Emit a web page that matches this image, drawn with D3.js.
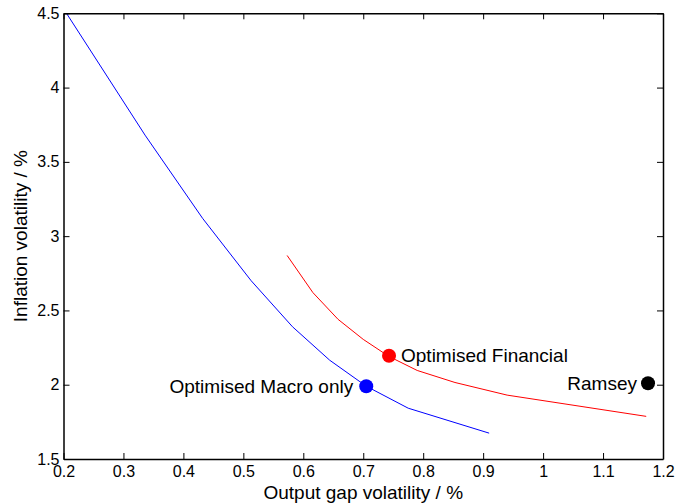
<!DOCTYPE html>
<html><head><meta charset="utf-8">
<script src="https://cdn.jsdelivr.net/npm/d3@7"></script>
<style>body{margin:0;background:#fff}svg text{font-family:"Liberation Sans",Arial,sans-serif;fill:#000}</style>
</head><body><svg id="c" width="677" height="504"></svg>
<script>
const xTicks = [0.2,0.3,0.4,0.5,0.6,0.7,0.8,0.9,1,1.1,1.2];
const yTicks = [1.5,2,2.5,3,3.5,4,4.5];
const macroX = [0.205,0.336,0.432,0.513,0.582,0.644,0.705,0.775,0.910];
const macroY = [4.50,3.68,3.12,2.70,2.39,2.165,1.99,1.842,1.674];
const finX = [0.573,0.616,0.658,0.700,0.743,0.790,0.853,0.940,1.172];
const finY = [2.87,2.62,2.44,2.305,2.19,2.096,2.015,1.93,1.787];
const pointNames = ["Optimised Macro only","Optimised Financial","Ramsey"];
const pointX = [0.705,0.743,1.175];
const pointY = [1.99,2.195,2.01];
const pointColors = ["#0000ff","#ff0000","#000000"];

const L=63.5,R=663,T=13.3,B=459;
const svg=d3.select("#c");
const x=d3.scaleLinear().domain([0.2,1.2]).range([L,R]);
const y=d3.scaleLinear().domain([1.5,4.5]).range([B,T]);

svg.append("clipPath").attr("id","clip").append("rect").attr("x",L).attr("y",T).attr("width",R-L).attr("height",B-T);

const line=d3.line().x(d=>x(d[0])).y(d=>y(d[1]));
const g=svg.append("g").attr("clip-path","url(#clip)");
g.append("path").datum(macroX.map((v,i)=>[v,macroY[i]])).attr("d",line).attr("fill","none").attr("stroke","#0000ff").attr("stroke-width",1);
g.append("path").datum(finX.map((v,i)=>[v,finY[i]])).attr("d",line).attr("fill","none").attr("stroke","#ff0000").attr("stroke-width",1);

const fmt=d=>d3.format("")(d);
const ax=svg.append("g").attr("transform",`translate(0,${B})`).call(d3.axisBottom(x).tickValues(xTicks).tickFormat(fmt).tickSizeInner(-6).tickSizeOuter(0).tickPadding(7));
const axT=svg.append("g").attr("transform",`translate(0,${T})`).call(d3.axisTop(x).tickValues(xTicks).tickFormat("").tickSizeInner(-6).tickSizeOuter(0));
const ay=svg.append("g").attr("transform",`translate(${L},0)`).call(d3.axisLeft(y).tickValues(yTicks).tickFormat(fmt).tickSizeInner(-6).tickSizeOuter(0).tickPadding(4));
const ayR=svg.append("g").attr("transform",`translate(${R},0)`).call(d3.axisRight(y).tickValues(yTicks).tickFormat("").tickSizeInner(-6).tickSizeOuter(0));
[ax,axT,ay,ayR].forEach(a=>{a.selectAll("path").attr("stroke","#000").attr("stroke-width",1.5);a.selectAll("line").attr("stroke","#000");a.selectAll("text").attr("font-size",16).attr("fill","#000").style("font-family","Liberation Sans, Arial, sans-serif");});

pointNames.forEach((n,i)=>{
  svg.append("circle").attr("cx",x(pointX[i])).attr("cy",y(pointY[i])).attr("r",7).attr("fill",pointColors[i]);
});
const lab=svg.append("g").attr("font-size",19);
lab.append("text").attr("x",x(pointX[0])-13).attr("y",y(pointY[0])).attr("dy","0.35em").attr("text-anchor","end").text(pointNames[0]);
lab.append("text").attr("x",x(pointX[1])+12).attr("y",y(pointY[1])).attr("dy","0.35em").text(pointNames[1]);
lab.append("text").attr("x",x(pointX[2])-11).attr("y",y(pointY[2])).attr("dy","0.35em").attr("text-anchor","end").text(pointNames[2]);

svg.append("text").attr("x",(L+R)/2).attr("y",499).attr("text-anchor","middle").attr("font-size",19).text("Output gap volatility / %");
svg.append("text").attr("transform",`translate(27,${(T+B)/2}) rotate(-90)`).attr("text-anchor","middle").attr("font-size",19).text("Inflation volatility / %");
</script></body></html>
